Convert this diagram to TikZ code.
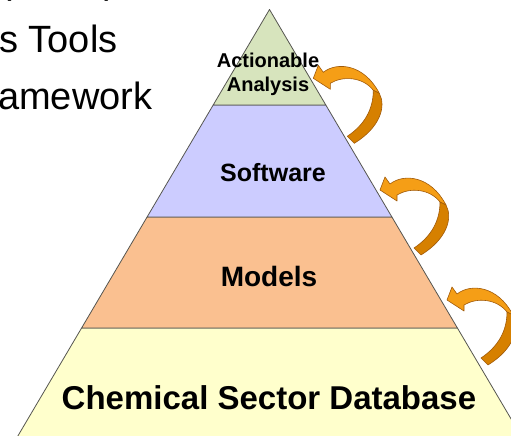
\documentclass[tikz,border=0pt]{standalone}
\usepackage{fontspec}
\setmainfont{Liberation Sans}

\definecolor{edgegray}{RGB}{85,85,80}
\definecolor{layergreen}{RGB}{215,228,189}
\definecolor{layerblue}{RGB}{204,204,255}
\definecolor{layerorange}{RGB}{250,192,144}
\definecolor{layeryellow}{RGB}{255,255,204}
\definecolor{arrowlight}{RGB}{245,158,22}
\definecolor{arrowdark}{RGB}{214,128,0}
\definecolor{arrowedge}{RGB}{160,90,10}

\tikzset{
  layer/.style={draw=edgegray,line width=0.8pt,line join=round},
  label/.style={font=\bfseries,inner sep=0pt,anchor=base},
  headline/.style={inner sep=0pt,anchor=base west,font=\fontsize{38}{40}\selectfont},
  uparrow/.pic={
    % light side, with the head
    \filldraw[fill=arrowlight,draw=arrowedge,line width=0.6pt,line join=round]
      (0,0) -- (5,13) -- (10,6) .. controls (24,17) and (51,14) .. (66,-15)
      -- (60,-12) .. controls (50,1) and (30,3) .. (17,-5) -- (17,-11) -- cycle;
    % dark side, down to the tail
    \filldraw[fill=arrowdark,draw=arrowedge,line width=0.6pt,line join=round]
      (60,-12) -- (66,-15) .. controls (73,-28) and (67,-49) .. (41,-65)
      -- (34,-58) .. controls (52,-46) and (60,-30) .. (60,-12) -- cycle;
  }
}

\begin{document}
\begin{tikzpicture}[x=1pt,y=1pt]

\useasboundingbox (0,0) rectangle (511,436);
\clip (0,0) rectangle (511,436);

% heading, cut off at the left
\node[headline] (head0) at (-1,442) {(\hspace{93pt})};
\node[headline] (head1) at (-1,383) {s Tools};
\node[headline] (head2) at (-2,326) {amework};

\coordinate (apex) at (269.5,426.5);
\coordinate (gl) at (213.2,331);
\coordinate (gr) at (325.8,331);
\coordinate (bl) at (147.1,219);
\coordinate (br) at (391.9,219);
\coordinate (ol) at (81.6,108);
\coordinate (or) at (457.4,108);
\coordinate (yl) at (14.9,-5);
\coordinate (yr) at (524.1,-5);

% layers
\filldraw[layer,fill=layeryellow] (ol) -- (or) -- (yr) -- (yl) -- cycle;
\filldraw[layer,fill=layerorange] (bl) -- (br) -- (or) -- (ol) -- cycle;
\filldraw[layer,fill=layerblue] (gl) -- (gr) -- (br) -- (bl) -- cycle;
\filldraw[layer,fill=layergreen] (apex) -- (gr) -- (gl) -- cycle;

\node[label,font=\fontsize{20}{22}\bfseries] (act) at (268,368) {Actionable};
\node[label,font=\fontsize{20}{22}\bfseries] (ana) at (268,344) {Analysis};
\node[label,font=\fontsize{25}{27}\bfseries] (soft) at (273,254) {Software};
\node[label,font=\fontsize{28}{30}\bfseries] (mod) at (269,149) {Models};
\node[label,font=\fontsize{33}{35}\bfseries] (db) at (269,26) {Chemical Sector Database};

% arrows up the side
\coordinate (tip1) at (313.3,357.7);
\coordinate (tip2) at (380,246);
\coordinate (tip3) at (447,136);
\pic at (tip1) {uparrow};
\pic at (tip2) {uparrow};
\pic at (tip3) {uparrow};

\end{tikzpicture}
\end{document}
